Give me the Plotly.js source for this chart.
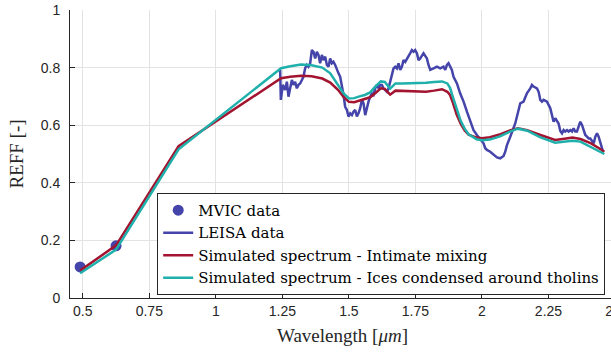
<!DOCTYPE html>
<html>
<head>
<meta charset="utf-8">
<script src="https://cdn.plot.ly/plotly-3.0.1.min.js"></script>
<style>
html, body { margin: 0; padding: 0; overflow: hidden; background: #ffffff; }
#chart { width: 640px; height: 355px; }
</style>
</head>
<body>
<div id="chart"></div>
<script>
// ---- Data ----
const mvicWl = [0.49, 0.625];
const mvicReff = [0.108, 0.181];

const leisaWl = [
  1.2417, 1.2443, 1.2519, 1.2605, 1.267, 1.273, 1.2793, 1.2857, 1.2917, 1.298,
  1.3045, 1.3105, 1.3169, 1.3233, 1.3293, 1.3357, 1.3421, 1.3481, 1.3545, 1.3609,
  1.367, 1.3733, 1.3797, 1.3857, 1.392, 1.3985, 1.4045, 1.411, 1.4173, 1.4233,
  1.4297, 1.436, 1.442, 1.4485, 1.455, 1.461, 1.4673, 1.4737, 1.48, 1.486,
  1.4925, 1.4985, 1.505, 1.5113, 1.5173, 1.5237, 1.53, 1.536, 1.5425, 1.549,
  1.555, 1.5613, 1.5677, 1.5737, 1.58, 1.5865, 1.5925, 1.5989, 1.6053, 1.6113,
  1.6177, 1.624, 1.63, 1.6365, 1.643, 1.649, 1.6553, 1.6617, 1.6677, 1.674,
  1.6805, 1.6865, 1.693, 1.6992, 1.7053, 1.7117, 1.718, 1.724, 1.7305, 1.7368,
  1.743, 1.749, 1.7556, 1.7617, 1.768, 1.7805, 1.787, 1.7932, 1.7992, 1.8057,
  1.818, 1.8308, 1.8433, 1.8557, 1.862, 1.8684, 1.8744, 1.8808, 1.887, 1.8932,
  1.906, 1.9184, 1.931, 1.9436, 1.956, 1.9684, 1.981, 1.9936, 2.006, 2.0124,
  2.0188, 2.031, 2.0436, 2.0564, 2.0688, 2.0812, 2.0876, 2.094, 2.1064, 2.119,
  2.125, 2.1316, 2.144, 2.1564, 2.169, 2.1816, 2.188, 2.194, 2.2068, 2.213,
  2.2192, 2.2256, 2.2316, 2.2444, 2.2568, 2.2692, 2.2756, 2.288, 2.2944, 2.3008,
  2.3068, 2.313, 2.3196, 2.3256, 2.332, 2.3384, 2.3444, 2.3508, 2.357, 2.3632,
  2.3696, 2.376, 2.382, 2.3884, 2.3948, 2.401, 2.4072, 2.4136, 2.42, 2.426,
  2.4324, 2.4385, 2.445, 2.451, 2.455
];
const leisaReff = [
  0.792, 0.688, 0.740, 0.722, 0.751, 0.699, 0.728, 0.757, 0.740, 0.751,
  0.728, 0.740, 0.745, 0.757, 0.768, 0.798, 0.809, 0.803, 0.815, 0.861,
  0.855, 0.832, 0.855, 0.844, 0.815, 0.844, 0.826, 0.838, 0.809, 0.803,
  0.832, 0.815, 0.820, 0.809, 0.792, 0.780, 0.768, 0.740, 0.705, 0.664,
  0.653, 0.630, 0.641, 0.635, 0.647, 0.653, 0.630, 0.641, 0.659, 0.688,
  0.676, 0.635, 0.664, 0.682, 0.699, 0.710, 0.705, 0.728, 0.740, 0.728,
  0.740, 0.740, 0.728, 0.722, 0.716, 0.728, 0.751, 0.780, 0.797, 0.803,
  0.797, 0.815, 0.792, 0.803, 0.826, 0.820, 0.832, 0.838, 0.850, 0.861,
  0.855, 0.861, 0.850, 0.826, 0.832, 0.850, 0.838, 0.832, 0.809, 0.792,
  0.797, 0.803, 0.797, 0.803, 0.792, 0.809, 0.815, 0.803, 0.792, 0.768,
  0.745, 0.710, 0.682, 0.647, 0.618, 0.583, 0.566, 0.550, 0.537, 0.520,
  0.514, 0.508, 0.497, 0.488, 0.485, 0.493, 0.508, 0.531, 0.560, 0.589,
  0.606, 0.630, 0.676, 0.682, 0.711, 0.728, 0.740, 0.734, 0.728, 0.716,
  0.688, 0.682, 0.688, 0.682, 0.659, 0.612, 0.624, 0.606, 0.580, 0.572,
  0.583, 0.578, 0.583, 0.578, 0.583, 0.578, 0.589, 0.578, 0.578, 0.595,
  0.612, 0.601, 0.583, 0.566, 0.560, 0.554, 0.554, 0.543, 0.537, 0.560,
  0.572, 0.560, 0.537, 0.520, 0.508
];

const simWl = [
  0.49, 0.625, 0.86, 1.245, 1.28, 1.32, 1.36, 1.40, 1.43, 1.46, 1.48, 1.50,
  1.52, 1.54, 1.56, 1.58, 1.60, 1.62, 1.635, 1.655, 1.675,
  1.70, 1.73, 1.76, 1.79, 1.82, 1.85, 1.87, 1.88, 1.89,
  1.905, 1.92, 1.935, 1.95, 1.98, 2.00, 2.03, 2.07, 2.105, 2.135,
  2.17, 2.22, 2.275, 2.31, 2.34, 2.37, 2.41, 2.44, 2.46
];
const simIntimate = [
  0.095, 0.183, 0.527, 0.763, 0.768, 0.772, 0.770, 0.762, 0.748, 0.722, 0.698, 0.681,
  0.680, 0.685, 0.690, 0.697, 0.712, 0.728, 0.726, 0.706, 0.720,
  0.719, 0.718, 0.717, 0.716, 0.720, 0.725, 0.716, 0.705, 0.680,
  0.637, 0.605, 0.582, 0.567, 0.557, 0.555, 0.558, 0.569, 0.582, 0.589,
  0.583, 0.566, 0.549, 0.553, 0.557, 0.552, 0.537, 0.520, 0.508
];
const simCondensed = [
  0.086, 0.168, 0.516, 0.798, 0.805, 0.811, 0.808, 0.800, 0.780, 0.740, 0.710, 0.693,
  0.694, 0.700, 0.705, 0.714, 0.735, 0.752, 0.750, 0.727, 0.745,
  0.745, 0.745, 0.745, 0.747, 0.750, 0.752, 0.745, 0.730, 0.700,
  0.655, 0.615, 0.588, 0.568, 0.551, 0.548, 0.550, 0.562, 0.578, 0.588,
  0.581, 0.558, 0.539, 0.543, 0.546, 0.543, 0.525, 0.510, 0.500
];

const xTickVals = [0.5, 0.75, 1, 1.25, 1.5, 1.75, 2, 2.25, 2.5];
const xTickText = ['0.5', '0.75', '1', '1.25', '1.5', '1.75', '2', '2.25', '2.5'];
const yTickVals = [0, 0.2, 0.4, 0.6, 0.8, 1];
const yTickText = ['0', '0.2', '0.4', '0.6', '0.8', '1'];

const seriesNames = [
  'MVIC data',
  'LEISA data',
  'Simulated spectrum - Intimate mixing',
  'Simulated spectrum - Ices condensed around tholins'
];

// ---- Styling ----
const cBlue = '#4444aa';
const cRed = '#a2142f';
const cTeal = '#1fb0ab';
const serif = 'DejaVu Serif, Liberation Serif, serif';
const serifTitle = 'Liberation Serif, Times New Roman, DejaVu Serif, serif';
const sans = 'Liberation Sans, Arial, sans-serif';

const traces = [
  { x: mvicWl, y: mvicReff, name: seriesNames[0], type: 'scatter', mode: 'markers',
    marker: { color: cBlue, size: 11 } },
  { x: leisaWl, y: leisaReff, name: seriesNames[1], type: 'scatter', mode: 'lines',
    line: { color: cBlue, width: 2.5 } },
  { x: simWl, y: simIntimate, name: seriesNames[2], type: 'scatter', mode: 'lines',
    line: { color: cRed, width: 2.5 } },
  { x: simWl, y: simCondensed, name: seriesNames[3], type: 'scatter', mode: 'lines',
    line: { color: cTeal, width: 2.5 } }
];

const layout = {
  width: 640, height: 355,
  margin: { l: 70, r: 25, t: 10, b: 57 },
  font: { family: serif },
  paper_bgcolor: '#ffffff', plot_bgcolor: '#ffffff',
  showlegend: true,
  legend: {
    x: 0.16, y: 0.365, xanchor: 'left', yanchor: 'top',
    bgcolor: '#ffffff', bordercolor: '#262626', borderwidth: 1,
    font: { family: serif, size: 15, color: '#000000' },
    tracegroupgap: 0, itemwidth: 30
  },
  xaxis: {
    range: [0.452, 2.5], tickmode: 'array', tickvals: xTickVals, ticktext: xTickText,
    ticks: 'inside', ticklen: 5, tickcolor: '#262626', tickwidth: 1,
    showline: true, linecolor: '#262626', linewidth: 1, mirror: false,
    showgrid: true, gridcolor: '#e3e3e3', gridwidth: 1, zeroline: false,
    tickfont: { family: sans, size: 14, color: '#262626' },
    automargin: false,
    title: { text: 'Wavelength [<i>μm</i>]', font: { family: serifTitle, size: 19, color: '#262626' }, standoff: 10 }
  },
  yaxis: {
    range: [0, 1], tickmode: 'array', tickvals: yTickVals, ticktext: yTickText,
    ticks: 'inside', ticklen: 5, tickcolor: '#262626', tickwidth: 1,
    ticklabelstandoff: 6,
    showline: true, linecolor: '#262626', linewidth: 1, mirror: false,
    showgrid: true, gridcolor: '#e3e3e3', gridwidth: 1, zeroline: false,
    tickfont: { family: sans, size: 14, color: '#262626' },
    automargin: false,
    title: { text: 'REFF [-]', font: { family: serifTitle, size: 19, color: '#262626' }, standoff: 12 }
  }
};

Plotly.newPlot('chart', traces, layout, { displayModeBar: false, staticPlot: true });
</script>
</body>
</html>
